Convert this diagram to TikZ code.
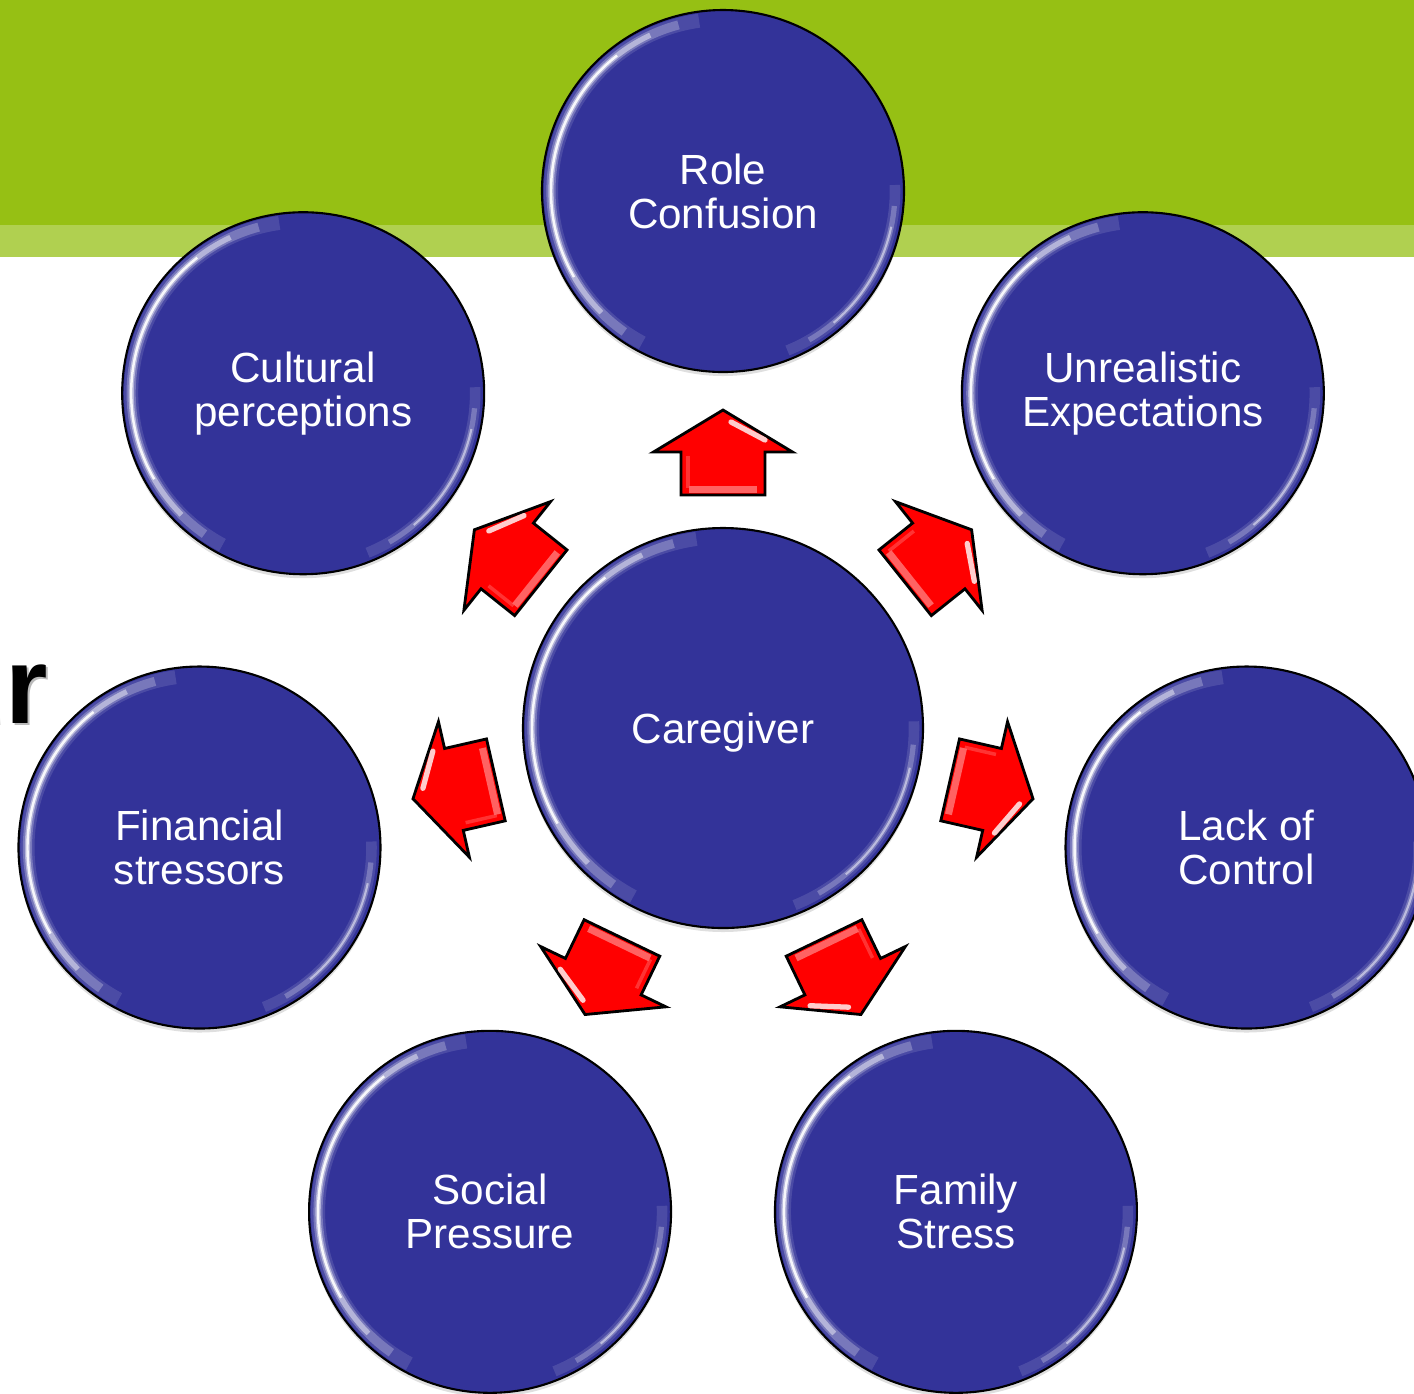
\documentclass[tikz,border=0pt]{standalone}
\usepackage{fontspec}
\setmainfont{Liberation Sans}
\usepackage{tikz}
\usetikzlibrary{positioning,calc,shadows}
\definecolor{bleu}{RGB}{51,51,153}
\definecolor{vert}{RGB}{150,192,20}
\definecolor{vertclair}{RGB}{176,208,80}
\definecolor{rouge}{RGB}{255,0,0}

\begin{document}
\begin{tikzpicture}[xscale=1,yscale=1]
\tikzstyle{bulle}=[circle,draw=black,line width=0.6pt,fill=bleu,text=white,align=center,inner sep=0pt,minimum size=3.62cm,font=\fontsize{12}{12.5}\selectfont,drop shadow={opacity=0.25,shadow xshift=0pt,shadow yshift=-0.04cm}]
\tikzstyle{centre}=[bulle,minimum size=4cm,text depth=0pt]
\tikzstyle{fleche}=[draw=black,line width=0.8pt,fill=rouge,line join=miter]
\tikzstyle{reflet}=[draw=white,line cap=butt]
\tikzstyle{titre}=[anchor=base east,inner sep=0pt,font=\fontsize{31}{31}\bfseries\selectfont]
\def\RayonOrbite{5.37}
\def\RayonBulle{1.72}
\def\RayonCentre{1.91}
\useasboundingbox (0,0) rectangle (14.14,-13.93);
% bandeau du haut
\fill[vert] (0,0) rectangle (14.14,-2.25);
\fill[vertclair] (0,-2.25) rectangle (14.14,-2.57);
% bout du titre
\node[titre,text=black!45,opacity=0.6] (TitreOmbre) at (0.51,-7.25) {ur};
\node[titre] (Titre) at (0.49,-7.23) {ur};
% bulles
\node[centre] (C) at (7.23,-7.28) {Caregiver};
\node[bulle] (Ca) at ($(C)+(90:\RayonOrbite)$) {Role\\Confusion};
\node[bulle] (Cb) at ($(C)+(38.57:\RayonOrbite)$) {Unrealistic\\Expectations};
\node[bulle] (Cc) at ($(C)+(-12.86:\RayonOrbite)$) {Lack of\\Control};
\node[bulle] (Cd) at ($(C)+(-64.29:\RayonOrbite)$) {Family\\Stress};
\node[bulle] (Ce) at ($(C)+(-115.71:\RayonOrbite)$) {Social\\Pressure};
\node[bulle] (Cf) at ($(C)+(-167.14:\RayonOrbite)$) {Financial\\stressors};
\node[bulle] (Cg) at ($(C)+(141.43:\RayonOrbite)$) {Cultural\\perceptions};
% reflets sur le bord des bulles
\foreach \nom/\ray in {C/\RayonCentre,Ca/\RayonBulle,Cb/\RayonBulle,Cc/\RayonBulle,Cd/\RayonBulle,Ce/\RayonBulle,Cf/\RayonBulle,Cg/\RayonBulle}{
  \draw[reflet,opacity=0.12,line width=4pt] ($(\nom)+(98:\ray)$) arc (98:242:\ray);
  \draw[reflet,opacity=0.25,line width=2.6pt] ($(\nom)+(105:\ray)$) arc (105:235:\ray);
  \draw[reflet,opacity=0.45,line width=1.5pt] ($(\nom)+(115:\ray)$) arc (115:225:\ray);
  \draw[reflet,opacity=0.9,line width=0.7pt] ($(\nom)+(128:\ray)$) arc (128:210:\ray);
  \draw[reflet,opacity=0.12,line width=3pt] ($(\nom)+(2:\ray)$) arc (2:-68:\ray);
  \draw[reflet,opacity=0.25,line width=1.5pt] ($(\nom)+(-5:\ray)$) arc (-5:-60:\ray);
  \draw[reflet,opacity=0.5,line width=0.6pt] ($(\nom)+(-12:\ray)$) arc (-12:-50:\ray);
}
% fleches
\foreach \a in {90,38.57,-12.86,-64.29,-115.71,-167.14,141.43}{
  \begin{scope}[shift={(C)},rotate=\a]
    \draw[fleche] (2.33,-0.42) -- (2.76,-0.42) -- (2.76,-0.695) -- (3.18,0) -- (2.76,0.695) -- (2.76,0.42) -- (2.33,0.42) -- cycle;
    \draw[rouge!45!white,opacity=0.7,line width=2pt] (2.39,-0.34) -- (2.39,0.34);
    \draw[rouge!60!white,opacity=0.5,line width=1pt] (2.40,0.35) -- (2.72,0.35);
    \draw[white,opacity=0.8,line width=1.5pt,line cap=round] (3.06,-0.08) -- (2.88,-0.42);
  \end{scope}
}
\end{tikzpicture}
\end{document}
